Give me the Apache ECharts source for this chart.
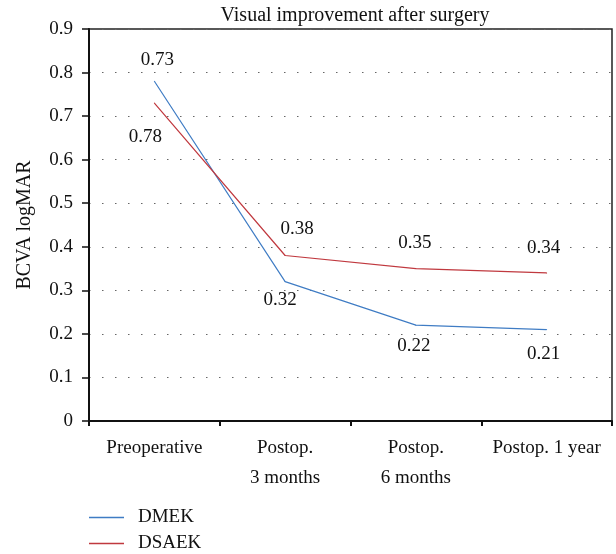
<!DOCTYPE html>
<html>
<head>
<meta charset="utf-8">
<script src="https://cdn.jsdelivr.net/npm/echarts@6/dist/echarts.min.js"></script>
<style>
html, body { margin: 0; padding: 0; background: #fff; }
#chart1 { width: 616px; height: 554px; }
</style>
</head>
<body>
<div id="chart1"></div>
<script>
// data
var categories = ['Preoperative', 'Postop.\n3 months', 'Postop.\n6 months', 'Postop. 1 year'];
var dmekValues = [0.78, 0.32, 0.22, 0.21];
var dsaekValues = [0.73, 0.38, 0.35, 0.34];
// label texts as printed on the figure (first two are swapped in the original)
var dmekLabels = ['0.73', '0.32', '0.22', '0.21'];
var dsaekLabels = ['0.78', '0.38', '0.35', '0.34'];
var yTicks = [0, 0.1, 0.2, 0.3, 0.4, 0.5, 0.6, 0.7, 0.8, 0.9];

var serif = '"Liberation Serif", "DejaVu Serif", serif';
var chart1 = echarts.init(document.getElementById('chart1'));

// where each value label sits relative to its point
var dmekPlace = [['top', [3, -6]], ['bottom', [-5, 3]], ['bottom', [-2, 6]], ['bottom', [-3, 9]]];
var dsaekPlace = [['bottom', [-9, 19]], ['top', [12, -11]], ['top', [-1, -11]], ['top', [-3, -10]]];

function buildData(values, texts, place) {
    return values.map(function (v, i) {
        return {
            value: v,
            label: { position: place[i][0], offset: place[i][1], formatter: texts[i] }
        };
    });
}

var option = {
    animation: false,
    backgroundColor: '#fff',
    title: {
        text: 'Visual improvement after surgery',
        left: 350, textAlign: 'center', top: 1,
        textStyle: { fontFamily: serif, fontWeight: 'normal', fontSize: 20, color: '#111' }
    },
    legend: {
        orient: 'vertical', left: 89, top: 508, padding: 0,
        itemWidth: 35, itemHeight: 1.5, itemGap: 7,
        icon: 'rect',
        textStyle: { fontFamily: serif, fontSize: 19, lineHeight: 19, color: '#111', padding: [0, 0, 0, 9] },
        data: ['DMEK', 'DSAEK']
    },
    grid: {
        left: 89, right: 4, top: 29, bottom: 133,
        show: true, borderColor: '#222', borderWidth: 1.5
    },
    xAxis: {
        type: 'category',
        data: categories,
        boundaryGap: true,
        axisLine: { lineStyle: { color: '#111', width: 2 } },
        axisTick: { show: true, interval: 0, length: 5, lineStyle: { color: '#111', width: 2 } },
        axisLabel: { interval: 0, fontFamily: serif, fontSize: 19, color: '#111', margin: 12, lineHeight: 30 }
    },
    yAxis: {
        type: 'value',
        min: 0, max: 0.9, interval: 0.1,
        name: 'BCVA logMAR',
        nameLocation: 'middle', nameGap: 54,
        nameTextStyle: { fontFamily: serif, fontSize: 20, color: '#111' },
        axisLine: { show: true, lineStyle: { color: '#111', width: 2 } },
        axisTick: { show: true, length: 7, lineStyle: { color: '#111', width: 1.5 } },
        axisLabel: {
            fontFamily: serif, fontSize: 19, color: '#111', margin: 16,
            formatter: function (v) {
                var t = yTicks.filter(function (x) { return Math.abs(x - v) < 1e-9; })[0];
                return t === 0 ? '0' : String(t);
            }
        },
        splitLine: { show: true, lineStyle: { color: '#666', type: [1.5, 11.5], width: 1.2 } }
    },
    series: [{
        name: 'DMEK',
        type: 'line',
        data: buildData(dmekValues, dmekLabels, dmekPlace),
        symbol: 'circle', symbolSize: 1, showSymbol: true,
        itemStyle: { color: '#3f7cc4' },
        lineStyle: { color: '#3f7cc4', width: 1.2 },
        label: { show: true, fontFamily: serif, fontSize: 19, color: '#111' }
    }, {
        name: 'DSAEK',
        type: 'line',
        data: buildData(dsaekValues, dsaekLabels, dsaekPlace),
        symbol: 'circle', symbolSize: 1, showSymbol: true,
        itemStyle: { color: '#c0393f' },
        lineStyle: { color: '#c0393f', width: 1.2 },
        label: { show: true, fontFamily: serif, fontSize: 19, color: '#111' }
    }]
};
chart1.setOption(option, true);
</script>
</body>
</html>
